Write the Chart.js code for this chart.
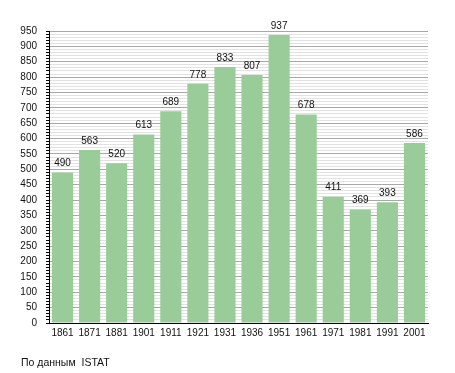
<!doctype html>
<html>
<head>
    <meta charset="utf-8">
    <title>Population</title>
    <script src="https://cdn.jsdelivr.net/npm/chart.js"></script>
    <style>
        body { margin: 0; background: #fff; }
        #wrap { position: relative; width: 455px; height: 373px; }
        #source {
            position: absolute; left: 21px; top: 356px;
            font: 10.5px "Liberation Sans", Arial, sans-serif; color: #111;
            white-space: pre;
        }
    </style>
</head>
<body>
<div id="wrap">
    <canvas id="myChart" width="455" height="373"></canvas>
    <div id="source">По данным  ISTAT</div>
</div>

<script>
    // census years and inhabitants
    var years = ['1861', '1871', '1881', '1901', '1911', '1921', '1931', '1936', '1951', '1961', '1971', '1981', '1991', '2001'];
    var inhabitants = [490, 563, 520, 613, 689, 778, 833, 807, 937, 678, 411, 369, 393, 586];

    var FONT = '"Liberation Sans", Arial, sans-serif';

    // writes the value above every bar
    var valueLabels = {
        id: 'valueLabels',
        afterDatasetsDraw: function (chart) {
            var ctx = chart.ctx;
            var meta = chart.getDatasetMeta(0);
            ctx.save();
            ctx.font = '10px ' + FONT;
            ctx.fillStyle = '#111';
            ctx.textAlign = 'center';
            ctx.textBaseline = 'bottom';
            meta.data.forEach(function (bar, i) {
                ctx.fillText(inhabitants[i], bar.x, bar.y - 4);
            });
            ctx.restore();
        }
    };

    new Chart(document.getElementById('myChart'), {
        type: 'bar',
        data: {
            labels: years,
            datasets: [{
                data: inhabitants,
                backgroundColor: '#99cc99',
                borderWidth: 0,
                barPercentage: 0.78,
                categoryPercentage: 1
            }]
        },
        options: {
            responsive: false,
            animation: false,
            layout: {
                padding: {left: 0, right: 27, top: 31, bottom: 34}
            },
            plugins: {
                legend: {display: false},
                tooltip: {enabled: false}
            },
            scales: {
                x: {
                    grid: {display: false, drawTicks: false},
                    border: {color: '#000'},
                    ticks: {
                        padding: 4,
                        color: '#111',
                        font: {family: FONT, size: 10},
                        maxRotation: 0,
                        autoSkip: false
                    },
                    afterFit: function (scale) {
                        scale.height = 16;
                    }
                },
                y: {
                    min: 0,
                    max: 950,
                    border: {color: '#000'},
                    grid: {
                        tickLength: 3,
                        tickColor: '#000',
                        color: function (c) {
                            return c.tick && c.tick.value % 50 === 0 ? '#a8a8a8' : '#e2e2e2';
                        }
                    },
                    ticks: {
                        stepSize: 10,
                        maxTicksLimit: 100,
                        autoSkip: false,
                        padding: 9,
                        color: '#111',
                        font: {family: FONT, size: 10},
                        callback: function (v) {
                            return v % 50 === 0 ? v : '';
                        }
                    },
                    afterFit: function (scale) {
                        scale.width = 49;
                    }
                }
            }
        },
        plugins: [valueLabels]
    });
</script>
</body>
</html>
